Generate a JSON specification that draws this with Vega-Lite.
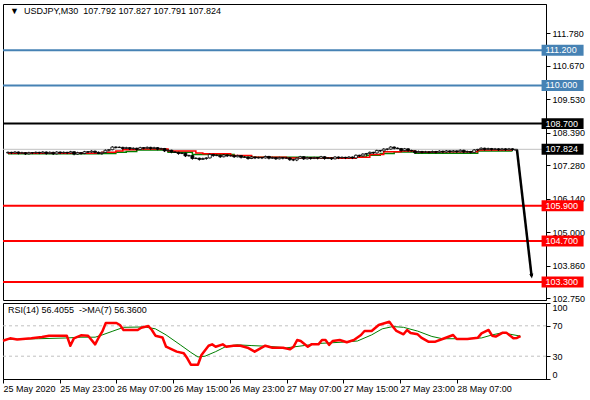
{
  "$schema": "https://vega.github.io/schema/vega-lite/v6.json",
  "background": "white",
  "padding": {"left": 0, "top": 3, "right": 0, "bottom": 0},
  "bounds": "flush",
  "spacing": 3,
  "config": {
    "font": "Liberation Sans",
    "view": {"stroke": "black", "strokeWidth": 1},
    "axis": {"labelFont": "Liberation Sans", "labelFontSize": 9, "labelColor": "black", "domainColor": "black", "tickColor": "black", "grid": false}
  },
  "datasets": {
    "levels": [
      {"p": 111.2, "kind": "Resistance"},
      {"p": 110.0, "kind": "Resistance"},
      {"p": 108.7, "kind": "Pivot"},
      {"p": 107.824, "kind": "Bid"},
      {"p": 105.9, "kind": "Support"},
      {"p": 104.7, "kind": "Support"},
      {"p": 103.3, "kind": "Support"}
    ],
    "candles": [
      {"i":0,"o":107.70,"h":107.75,"l":107.68,"c":107.72},
      {"i":1,"o":107.72,"h":107.74,"l":107.66,"c":107.70},
      {"i":2,"o":107.70,"h":107.76,"l":107.68,"c":107.73},
      {"i":3,"o":107.73,"h":107.75,"l":107.65,"c":107.69},
      {"i":4,"o":107.69,"h":107.74,"l":107.67,"c":107.71},
      {"i":5,"o":107.71,"h":107.73,"l":107.63,"c":107.67},
      {"i":6,"o":107.67,"h":107.74,"l":107.65,"c":107.71},
      {"i":7,"o":107.71,"h":107.73,"l":107.66,"c":107.70},
      {"i":8,"o":107.70,"h":107.75,"l":107.68,"c":107.72},
      {"i":9,"o":107.72,"h":107.74,"l":107.66,"c":107.70},
      {"i":10,"o":107.70,"h":107.76,"l":107.68,"c":107.73},
      {"i":11,"o":107.73,"h":107.75,"l":107.64,"c":107.68},
      {"i":12,"o":107.68,"h":107.75,"l":107.66,"c":107.72},
      {"i":13,"o":107.72,"h":107.74,"l":107.63,"c":107.67},
      {"i":14,"o":107.67,"h":107.76,"l":107.65,"c":107.73},
      {"i":15,"o":107.73,"h":107.75,"l":107.66,"c":107.70},
      {"i":16,"o":107.70,"h":107.75,"l":107.68,"c":107.72},
      {"i":17,"o":107.72,"h":107.74,"l":107.66,"c":107.70},
      {"i":18,"o":107.70,"h":107.77,"l":107.68,"c":107.74},
      {"i":19,"o":107.74,"h":107.76,"l":107.62,"c":107.66},
      {"i":20,"o":107.66,"h":107.74,"l":107.64,"c":107.71},
      {"i":21,"o":107.71,"h":107.73,"l":107.64,"c":107.68},
      {"i":22,"o":107.68,"h":107.77,"l":107.66,"c":107.74},
      {"i":23,"o":107.74,"h":107.76,"l":107.69,"c":107.73},
      {"i":24,"o":107.73,"h":107.79,"l":107.71,"c":107.76},
      {"i":25,"o":107.76,"h":107.78,"l":107.68,"c":107.72},
      {"i":26,"o":107.72,"h":107.75,"l":107.66,"c":107.68},
      {"i":27,"o":107.68,"h":107.74,"l":107.64,"c":107.72},
      {"i":28,"o":107.72,"h":107.82,"l":107.70,"c":107.79},
      {"i":29,"o":107.79,"h":107.83,"l":107.75,"c":107.81},
      {"i":30,"o":107.81,"h":107.93,"l":107.79,"c":107.90},
      {"i":31,"o":107.90,"h":107.92,"l":107.85,"c":107.89},
      {"i":32,"o":107.89,"h":107.92,"l":107.87,"c":107.89},
      {"i":33,"o":107.89,"h":107.91,"l":107.81,"c":107.85},
      {"i":34,"o":107.85,"h":107.91,"l":107.83,"c":107.88},
      {"i":35,"o":107.88,"h":107.90,"l":107.80,"c":107.84},
      {"i":36,"o":107.84,"h":107.89,"l":107.82,"c":107.86},
      {"i":37,"o":107.86,"h":107.88,"l":107.78,"c":107.82},
      {"i":38,"o":107.82,"h":107.91,"l":107.80,"c":107.88},
      {"i":39,"o":107.88,"h":107.90,"l":107.82,"c":107.86},
      {"i":40,"o":107.86,"h":107.92,"l":107.84,"c":107.89},
      {"i":41,"o":107.89,"h":107.91,"l":107.81,"c":107.85},
      {"i":42,"o":107.85,"h":107.91,"l":107.83,"c":107.88},
      {"i":43,"o":107.88,"h":107.90,"l":107.79,"c":107.83},
      {"i":44,"o":107.83,"h":107.88,"l":107.81,"c":107.85},
      {"i":45,"o":107.85,"h":107.87,"l":107.73,"c":107.77},
      {"i":46,"o":107.77,"h":107.82,"l":107.75,"c":107.79},
      {"i":47,"o":107.79,"h":107.81,"l":107.69,"c":107.73},
      {"i":48,"o":107.73,"h":107.76,"l":107.70,"c":107.72},
      {"i":49,"o":107.72,"h":107.74,"l":107.64,"c":107.68},
      {"i":50,"o":107.68,"h":107.72,"l":107.66,"c":107.69},
      {"i":51,"o":107.69,"h":107.71,"l":107.56,"c":107.60},
      {"i":52,"o":107.60,"h":107.64,"l":107.58,"c":107.61},
      {"i":53,"o":107.61,"h":107.63,"l":107.47,"c":107.51},
      {"i":54,"o":107.51,"h":107.55,"l":107.49,"c":107.52},
      {"i":55,"o":107.52,"h":107.54,"l":107.44,"c":107.48},
      {"i":56,"o":107.48,"h":107.54,"l":107.46,"c":107.51},
      {"i":57,"o":107.51,"h":107.55,"l":107.47,"c":107.53},
      {"i":58,"o":107.53,"h":107.68,"l":107.51,"c":107.65},
      {"i":59,"o":107.65,"h":107.67,"l":107.57,"c":107.61},
      {"i":60,"o":107.61,"h":107.65,"l":107.59,"c":107.62},
      {"i":61,"o":107.62,"h":107.64,"l":107.53,"c":107.57},
      {"i":62,"o":107.57,"h":107.66,"l":107.55,"c":107.63},
      {"i":63,"o":107.63,"h":107.65,"l":107.56,"c":107.60},
      {"i":64,"o":107.60,"h":107.64,"l":107.58,"c":107.61},
      {"i":65,"o":107.61,"h":107.63,"l":107.53,"c":107.57},
      {"i":66,"o":107.57,"h":107.64,"l":107.55,"c":107.61},
      {"i":67,"o":107.61,"h":107.63,"l":107.51,"c":107.55},
      {"i":68,"o":107.55,"h":107.59,"l":107.53,"c":107.56},
      {"i":69,"o":107.56,"h":107.58,"l":107.47,"c":107.51},
      {"i":70,"o":107.51,"h":107.59,"l":107.49,"c":107.56},
      {"i":71,"o":107.56,"h":107.58,"l":107.49,"c":107.53},
      {"i":72,"o":107.53,"h":107.57,"l":107.51,"c":107.54},
      {"i":73,"o":107.54,"h":107.56,"l":107.49,"c":107.53},
      {"i":74,"o":107.53,"h":107.61,"l":107.51,"c":107.58},
      {"i":75,"o":107.58,"h":107.60,"l":107.48,"c":107.52},
      {"i":76,"o":107.52,"h":107.57,"l":107.50,"c":107.54},
      {"i":77,"o":107.54,"h":107.56,"l":107.46,"c":107.50},
      {"i":78,"o":107.50,"h":107.57,"l":107.48,"c":107.54},
      {"i":79,"o":107.54,"h":107.56,"l":107.48,"c":107.52},
      {"i":80,"o":107.52,"h":107.56,"l":107.50,"c":107.53},
      {"i":81,"o":107.53,"h":107.55,"l":107.43,"c":107.47},
      {"i":82,"o":107.47,"h":107.50,"l":107.42,"c":107.46},
      {"i":83,"o":107.46,"h":107.54,"l":107.42,"c":107.52},
      {"i":84,"o":107.52,"h":107.60,"l":107.50,"c":107.57},
      {"i":85,"o":107.57,"h":107.59,"l":107.46,"c":107.50},
      {"i":86,"o":107.50,"h":107.57,"l":107.48,"c":107.54},
      {"i":87,"o":107.54,"h":107.56,"l":107.47,"c":107.51},
      {"i":88,"o":107.51,"h":107.57,"l":107.49,"c":107.54},
      {"i":89,"o":107.54,"h":107.56,"l":107.48,"c":107.52},
      {"i":90,"o":107.52,"h":107.60,"l":107.50,"c":107.57},
      {"i":91,"o":107.57,"h":107.59,"l":107.47,"c":107.51},
      {"i":92,"o":107.51,"h":107.56,"l":107.49,"c":107.53},
      {"i":93,"o":107.53,"h":107.55,"l":107.46,"c":107.50},
      {"i":94,"o":107.50,"h":107.59,"l":107.48,"c":107.56},
      {"i":95,"o":107.56,"h":107.58,"l":107.49,"c":107.53},
      {"i":96,"o":107.53,"h":107.58,"l":107.51,"c":107.55},
      {"i":97,"o":107.55,"h":107.57,"l":107.49,"c":107.53},
      {"i":98,"o":107.53,"h":107.59,"l":107.51,"c":107.56},
      {"i":99,"o":107.56,"h":107.58,"l":107.49,"c":107.53},
      {"i":100,"o":107.53,"h":107.65,"l":107.51,"c":107.62},
      {"i":101,"o":107.62,"h":107.64,"l":107.56,"c":107.60},
      {"i":102,"o":107.60,"h":107.69,"l":107.58,"c":107.66},
      {"i":103,"o":107.66,"h":107.70,"l":107.62,"c":107.68},
      {"i":104,"o":107.68,"h":107.75,"l":107.66,"c":107.72},
      {"i":105,"o":107.72,"h":107.74,"l":107.66,"c":107.70},
      {"i":106,"o":107.70,"h":107.81,"l":107.68,"c":107.78},
      {"i":107,"o":107.78,"h":107.80,"l":107.73,"c":107.77},
      {"i":108,"o":107.77,"h":107.86,"l":107.75,"c":107.83},
      {"i":109,"o":107.83,"h":107.85,"l":107.79,"c":107.83},
      {"i":110,"o":107.83,"h":107.93,"l":107.81,"c":107.90},
      {"i":111,"o":107.90,"h":107.92,"l":107.82,"c":107.86},
      {"i":112,"o":107.86,"h":107.89,"l":107.83,"c":107.85},
      {"i":113,"o":107.85,"h":107.87,"l":107.74,"c":107.78},
      {"i":114,"o":107.78,"h":107.87,"l":107.76,"c":107.84},
      {"i":115,"o":107.84,"h":107.86,"l":107.74,"c":107.78},
      {"i":116,"o":107.78,"h":107.81,"l":107.75,"c":107.77},
      {"i":117,"o":107.77,"h":107.79,"l":107.67,"c":107.71},
      {"i":118,"o":107.71,"h":107.78,"l":107.69,"c":107.75},
      {"i":119,"o":107.75,"h":107.77,"l":107.68,"c":107.72},
      {"i":120,"o":107.72,"h":107.77,"l":107.70,"c":107.74},
      {"i":121,"o":107.74,"h":107.76,"l":107.68,"c":107.72},
      {"i":122,"o":107.72,"h":107.78,"l":107.70,"c":107.75},
      {"i":123,"o":107.75,"h":107.77,"l":107.68,"c":107.72},
      {"i":124,"o":107.72,"h":107.79,"l":107.70,"c":107.76},
      {"i":125,"o":107.76,"h":107.78,"l":107.69,"c":107.73},
      {"i":126,"o":107.73,"h":107.80,"l":107.71,"c":107.77},
      {"i":127,"o":107.77,"h":107.79,"l":107.70,"c":107.74},
      {"i":128,"o":107.74,"h":107.80,"l":107.72,"c":107.77},
      {"i":129,"o":107.77,"h":107.79,"l":107.70,"c":107.74},
      {"i":130,"o":107.74,"h":107.82,"l":107.72,"c":107.79},
      {"i":131,"o":107.79,"h":107.81,"l":107.69,"c":107.73},
      {"i":132,"o":107.73,"h":107.78,"l":107.71,"c":107.75},
      {"i":133,"o":107.75,"h":107.77,"l":107.68,"c":107.72},
      {"i":134,"o":107.72,"h":107.83,"l":107.70,"c":107.80},
      {"i":135,"o":107.80,"h":107.84,"l":107.76,"c":107.82},
      {"i":136,"o":107.82,"h":107.89,"l":107.80,"c":107.86},
      {"i":137,"o":107.86,"h":107.88,"l":107.78,"c":107.82},
      {"i":138,"o":107.82,"h":107.88,"l":107.80,"c":107.85},
      {"i":139,"o":107.85,"h":107.87,"l":107.78,"c":107.82},
      {"i":140,"o":107.82,"h":107.87,"l":107.80,"c":107.84},
      {"i":141,"o":107.84,"h":107.86,"l":107.77,"c":107.81},
      {"i":142,"o":107.81,"h":107.87,"l":107.79,"c":107.84},
      {"i":143,"o":107.84,"h":107.86,"l":107.77,"c":107.81},
      {"i":144,"o":107.81,"h":107.87,"l":107.79,"c":107.84},
      {"i":145,"o":107.84,"h":107.86,"l":107.77,"c":107.81},
      {"i":146,"o":107.792,"h":107.827,"l":107.791,"c":107.824}
    ],
    "fastMA": [
      {"i":0,"p":107.69},{"i":27,"p":107.72},{"i":31,"p":107.77},{"i":33,"p":107.81},{"i":37,"p":107.83},
      {"i":46,"p":107.77},{"i":54,"p":107.70},{"i":56,"p":107.67},{"i":64,"p":107.61},{"i":70,"p":107.55},
      {"i":80,"p":107.53},{"i":95,"p":107.52},{"i":100,"p":107.55},{"i":104,"p":107.65},{"i":108,"p":107.74},
      {"i":113,"p":107.77},{"i":117,"p":107.72},{"i":123,"p":107.74},{"i":135,"p":107.80},{"i":145,"p":107.80}
    ],
    "slowMA": [
      {"i":0,"p":107.67},{"i":27,"p":107.68},{"i":31,"p":107.72},{"i":34,"p":107.75},{"i":37,"p":107.80},
      {"i":46,"p":107.72},{"i":53,"p":107.65},{"i":65,"p":107.60},{"i":70,"p":107.55},{"i":90,"p":107.54},
      {"i":100,"p":107.56},{"i":103,"p":107.62},{"i":107,"p":107.68},{"i":111,"p":107.73},{"i":117,"p":107.69},
      {"i":135,"p":107.77},{"i":145,"p":107.77}
    ],
    "arrow": [
      {"i":146.3,"p":107.80},
      {"i":150.5,"p":103.50}
    ],
    "rsi": [
      {"i":0,"v":50.4},{"i":2,"v":53.5},{"i":4,"v":52},{"i":8,"v":53.5},{"i":11,"v":55.3},{"i":13,"v":57},
      {"i":18,"v":57},{"i":19,"v":43.8},{"i":20,"v":53.5},{"i":22,"v":57.5},{"i":24,"v":57},{"i":26,"v":45.6},
      {"i":27,"v":54.6},{"i":28,"v":62.3},{"i":29,"v":73.7},{"i":32,"v":73.7},{"i":33,"v":71},{"i":34,"v":64.5},
      {"i":38,"v":64.5},{"i":39,"v":67.5},{"i":41,"v":69.7},{"i":42,"v":64.5},{"i":43,"v":57},{"i":45,"v":54.6},
      {"i":46,"v":42.5},{"i":49,"v":36},{"i":51,"v":33.8},{"i":52,"v":27.2},{"i":53,"v":18.8},{"i":55,"v":18.8},
      {"i":56,"v":31.6},{"i":58,"v":43.8},{"i":59,"v":45.6},{"i":60,"v":42.5},{"i":62,"v":45.6},{"i":63,"v":42.5},
      {"i":65,"v":43.8},{"i":67,"v":43.8},{"i":69,"v":41.2},{"i":71,"v":36},{"i":73,"v":41.2},{"i":74,"v":43.8},
      {"i":76,"v":41.2},{"i":79,"v":41.2},{"i":81,"v":39},{"i":82,"v":42.5},{"i":83,"v":51.3},{"i":84,"v":50},
      {"i":86,"v":42.5},{"i":87,"v":45.6},{"i":89,"v":45.6},{"i":90,"v":51.3},{"i":91,"v":51.3},{"i":92,"v":44.9},
      {"i":93,"v":50},{"i":95,"v":51.3},{"i":97,"v":48.4},{"i":99,"v":51.3},{"i":101,"v":57.9},{"i":102,"v":63.2},
      {"i":104,"v":63.2},{"i":106,"v":71},{"i":109,"v":75.4},{"i":110,"v":68.9},{"i":111,"v":63.2},{"i":113,"v":58.8},
      {"i":114,"v":64.5},{"i":115,"v":60.5},{"i":117,"v":58.8},{"i":118,"v":54.4},{"i":120,"v":49.1},{"i":122,"v":49.1},
      {"i":124,"v":52.6},{"i":127,"v":57.9},{"i":128,"v":52.6},{"i":131,"v":52.6},{"i":134,"v":54.4},{"i":135,"v":60},
      {"i":137,"v":64.5},{"i":138,"v":57},{"i":139,"v":55.8},{"i":141,"v":61},{"i":142,"v":61},{"i":144,"v":53.5},
      {"i":145,"v":54},{"i":146,"v":56.4}
    ],
    "rsiMA": [
      {"i":0,"m":52},{"i":10,"m":53},{"i":18,"m":54},{"i":22,"m":55},{"i":26,"m":55},{"i":28,"m":58},
      {"i":31,"m":63},{"i":34,"m":68},{"i":40,"m":68.5},{"i":43,"m":66},{"i":46,"m":58},{"i":50,"m":45},
      {"i":53,"m":35},{"i":55,"m":29},{"i":57,"m":30},{"i":60,"m":36},{"i":63,"m":43},{"i":66,"m":45},
      {"i":70,"m":44},{"i":75,"m":43},{"i":80,"m":41},{"i":85,"m":44},{"i":90,"m":47},{"i":96,"m":48.5},
      {"i":100,"m":50},{"i":104,"m":58},{"i":107,"m":66},{"i":110,"m":69},{"i":113,"m":68},{"i":117,"m":63},
      {"i":121,"m":56},{"i":124,"m":53},{"i":130,"m":53},{"i":135,"m":54},{"i":138,"m":58},{"i":141,"m":61},
      {"i":143,"m":59},{"i":146,"m":56.4}
    ],
    "levelsRSI": [{"v":70},{"v":30}],
    "titles": [{"t":"▼\u00a0\u00a0USDJPY,M30\u00a0\u00a0107.792 107.827 107.791 107.824"}],
    "rsiTitle": [{"t":"RSI(14) 56.4055\u00a0\u00a0->MA(7) 56.3600"}]
  },
  "vconcat": [
    {
      "width": 543,
      "height": 296,
      "layer": [
        {
          "data": {"name": "levels"},
          "transform": [{"filter": "datum.kind !== 'Bid'"}],
          "mark": {"type": "rule", "strokeWidth": 2},
          "encoding": {
            "y": {"field": "p", "type": "quantitative",
                  "scale": {"domain": [102.689, 112.775], "nice": false, "zero": false},
                  "axis": {"orient": "right", "title": null, "values": [102.75, 103.86, 105, 106.14, 107.28, 108.39, 109.53, 110.67, 111.78], "format": ".3f", "tickSize": 4, "labelPadding": 2}},
            "color": {"field": "kind", "type": "nominal",
                      "scale": {"domain": ["Resistance", "Pivot", "Bid", "Support"], "range": ["#4682B4", "#000000", "#000000", "#FF0000"]},
                      "legend": null}
          }
        },
        {
          "data": {"name": "levels"},
          "transform": [{"filter": "datum.kind === 'Bid'"}],
          "mark": {"type": "rule", "strokeWidth": 1, "color": "#C0C0C0"},
          "encoding": {
            "y": {"field": "p", "type": "quantitative", "scale": {"domain": [102.689, 112.775], "nice": false, "zero": false},
                  "axis": {"orient": "right", "title": null, "values": [102.75, 103.86, 105, 106.14, 107.28, 108.39, 109.53, 110.67, 111.78], "format": ".3f", "tickSize": 4, "labelPadding": 2}}
          }
        },
        {
          "data": {"name": "slowMA"},
          "mark": {"type": "line", "interpolate": "step-after", "color": "#008000", "strokeWidth": 1.5},
          "encoding": {
            "x": {"field": "i", "type": "quantitative", "scale": {"domain": [0, 153.2], "nice": false, "zero": false}, "axis": null},
            "y": {"field": "p", "type": "quantitative", "scale": {"domain": [102.689, 112.775], "nice": false, "zero": false},
                  "axis": {"orient": "right", "title": null, "values": [102.75, 103.86, 105, 106.14, 107.28, 108.39, 109.53, 110.67, 111.78], "format": ".3f", "tickSize": 4, "labelPadding": 2}}
          }
        },
        {
          "data": {"name": "fastMA"},
          "mark": {"type": "line", "interpolate": "step-after", "color": "#FF0000", "strokeWidth": 1.5},
          "encoding": {
            "x": {"field": "i", "type": "quantitative", "scale": {"domain": [0, 153.2], "nice": false, "zero": false}, "axis": null},
            "y": {"field": "p", "type": "quantitative", "scale": {"domain": [102.689, 112.775], "nice": false, "zero": false},
                  "axis": {"orient": "right", "title": null, "values": [102.75, 103.86, 105, 106.14, 107.28, 108.39, 109.53, 110.67, 111.78], "format": ".3f", "tickSize": 4, "labelPadding": 2}}
          }
        },
        {
          "data": {"name": "candles"},
          "mark": {"type": "rule", "color": "black", "strokeWidth": 1},
          "encoding": {
            "x": {"field": "i", "type": "quantitative", "scale": {"domain": [0, 153.2], "nice": false, "zero": false}, "axis": null},
            "y": {"field": "l", "type": "quantitative", "scale": {"domain": [102.689, 112.775], "nice": false, "zero": false},
                  "axis": {"orient": "right", "title": null, "values": [102.75, 103.86, 105, 106.14, 107.28, 108.39, 109.53, 110.67, 111.78], "format": ".3f", "tickSize": 4, "labelPadding": 2}},
            "y2": {"field": "h"}
          }
        },
        {
          "data": {"name": "candles"},
          "mark": {"type": "bar", "size": 3, "stroke": "black", "strokeWidth": 0.8},
          "encoding": {
            "x": {"field": "i", "type": "quantitative", "scale": {"domain": [0, 153.2], "nice": false, "zero": false}, "axis": null},
            "y": {"field": "o", "type": "quantitative", "scale": {"domain": [102.689, 112.775], "nice": false, "zero": false},
                  "axis": {"orient": "right", "title": null, "values": [102.75, 103.86, 105, 106.14, 107.28, 108.39, 109.53, 110.67, 111.78], "format": ".3f", "tickSize": 4, "labelPadding": 2}},
            "y2": {"field": "c"},
            "color": {"condition": {"test": "datum.c >= datum.o", "value": "white"}, "value": "black"}
          }
        },
        {
          "data": {"name": "arrow"},
          "mark": {"type": "line", "color": "black", "strokeWidth": 2.5},
          "encoding": {
            "x": {"field": "i", "type": "quantitative", "scale": {"domain": [0, 153.2], "nice": false, "zero": false}, "axis": null},
            "y": {"field": "p", "type": "quantitative", "scale": {"domain": [102.689, 112.775], "nice": false, "zero": false},
                  "axis": {"orient": "right", "title": null, "values": [102.75, 103.86, 105, 106.14, 107.28, 108.39, 109.53, 110.67, 111.78], "format": ".3f", "tickSize": 4, "labelPadding": 2}}
          }
        },
        {
          "data": {"name": "arrow"},
          "transform": [{"filter": "datum.p < 105"}],
          "mark": {"type": "point", "filled": true, "color": "black", "opacity": 1, "shape": "M-0.5,-0.6L0.5,-0.6L0,0.6Z", "size": 64, "angle": 353},
          "encoding": {
            "x": {"field": "i", "type": "quantitative", "scale": {"domain": [0, 153.2], "nice": false, "zero": false}, "axis": null},
            "y": {"field": "p", "type": "quantitative", "scale": {"domain": [102.689, 112.775], "nice": false, "zero": false},
                  "axis": {"orient": "right", "title": null, "values": [102.75, 103.86, 105, 106.14, 107.28, 108.39, 109.53, 110.67, 111.78], "format": ".3f", "tickSize": 4, "labelPadding": 2}}
          }
        },
        {
          "data": {"name": "levels"},
          "mark": {"type": "point", "filled": true, "opacity": 1, "shape": "M-1,-0.26H1V0.26H-1Z", "size": 1764},
          "encoding": {
            "x": {"datum": 159.4, "type": "quantitative", "scale": {"domain": [0, 153.2], "nice": false, "zero": false}, "axis": null},
            "y": {"field": "p", "type": "quantitative", "scale": {"domain": [102.689, 112.775], "nice": false, "zero": false},
                  "axis": {"orient": "right", "title": null, "values": [102.75, 103.86, 105, 106.14, 107.28, 108.39, 109.53, 110.67, 111.78], "format": ".3f", "tickSize": 4, "labelPadding": 2}},
            "color": {"field": "kind", "type": "nominal", "legend": null}
          }
        },
        {
          "data": {"name": "levels"},
          "mark": {"type": "text", "align": "left", "baseline": "middle", "color": "white", "fontSize": 9, "dx": 2},
          "encoding": {
            "x": {"datum": 153.9, "type": "quantitative", "scale": {"domain": [0, 153.2], "nice": false, "zero": false}, "axis": null},
            "y": {"field": "p", "type": "quantitative", "scale": {"domain": [102.689, 112.775], "nice": false, "zero": false},
                  "axis": {"orient": "right", "title": null, "values": [102.75, 103.86, 105, 106.14, 107.28, 108.39, 109.53, 110.67, 111.78], "format": ".3f", "tickSize": 4, "labelPadding": 2}},
            "text": {"field": "p", "type": "quantitative", "format": ".3f"}
          }
        },
        {
          "data": {"name": "titles"},
          "mark": {"type": "text", "align": "left", "baseline": "middle", "color": "black", "fontSize": 9},
          "encoding": {
            "x": {"datum": 0.6, "type": "quantitative", "scale": {"domain": [0, 153.2], "nice": false, "zero": false}, "axis": null},
            "y": {"datum": 112.54, "type": "quantitative", "scale": {"domain": [102.689, 112.775], "nice": false, "zero": false},
                  "axis": {"orient": "right", "title": null, "values": [102.75, 103.86, 105, 106.14, 107.28, 108.39, 109.53, 110.67, 111.78], "format": ".3f", "tickSize": 4, "labelPadding": 2}},
            "text": {"field": "t"}
          }
        }
      ]
    },
    {
      "width": 543,
      "height": 76,
      "layer": [
        {
          "data": {"name": "levelsRSI"},
          "mark": {"type": "rule", "color": "#C0C0C0", "strokeDash": [3, 3], "strokeWidth": 1},
          "encoding": {
            "y": {"field": "v", "type": "quantitative", "scale": {"domain": [0, 100], "nice": false, "zero": false},
                  "axis": {"orient": "right", "title": null, "values": [0, 30, 70, 100], "labelFlush": true, "tickSize": 4, "labelPadding": 2}}
          }
        },
        {
          "data": {"name": "rsiMA"},
          "mark": {"type": "line", "color": "#008000", "strokeWidth": 1},
          "encoding": {
            "x": {"field": "i", "type": "quantitative", "scale": {"domain": [0, 153.2], "nice": false, "zero": false},
                  "axis": {"orient": "bottom", "title": null, "values": [0, 16, 32, 48, 64, 80, 96, 112, 128], "tickSize": 4, "labelPadding": 1, "labelAlign": "left", "labelFlush": false, "labelOverlap": false,
                           "labelExpr": "['25 May 2020','25 May 23:00','26 May 07:00','26 May 15:00','26 May 23:00','27 May 07:00','27 May 15:00','27 May 23:00','28 May 07:00'][round(datum.value / 16)]"}},
            "y": {"field": "m", "type": "quantitative", "scale": {"domain": [0, 100], "nice": false, "zero": false},
                  "axis": {"orient": "right", "title": null, "values": [0, 30, 70, 100], "labelFlush": true, "tickSize": 4, "labelPadding": 2}}
          }
        },
        {
          "data": {"name": "rsi"},
          "mark": {"type": "line", "color": "#FF0000", "strokeWidth": 2.5, "strokeJoin": "round"},
          "encoding": {
            "x": {"field": "i", "type": "quantitative", "scale": {"domain": [0, 153.2], "nice": false, "zero": false},
                  "axis": {"orient": "bottom", "title": null, "values": [0, 16, 32, 48, 64, 80, 96, 112, 128], "tickSize": 4, "labelPadding": 1, "labelAlign": "left", "labelFlush": false, "labelOverlap": false,
                           "labelExpr": "['25 May 2020','25 May 23:00','26 May 07:00','26 May 15:00','26 May 23:00','27 May 07:00','27 May 15:00','27 May 23:00','28 May 07:00'][round(datum.value / 16)]"}},
            "y": {"field": "v", "type": "quantitative", "scale": {"domain": [0, 100], "nice": false, "zero": false},
                  "axis": {"orient": "right", "title": null, "values": [0, 30, 70, 100], "labelFlush": true, "tickSize": 4, "labelPadding": 2}}
          }
        },
        {
          "data": {"name": "rsiTitle"},
          "mark": {"type": "text", "align": "left", "baseline": "middle", "color": "black", "fontSize": 9},
          "encoding": {
            "x": {"datum": 1.4, "type": "quantitative", "scale": {"domain": [0, 153.2], "nice": false, "zero": false},
                  "axis": {"orient": "bottom", "title": null, "values": [0, 16, 32, 48, 64, 80, 96, 112, 128], "tickSize": 4, "labelPadding": 1, "labelAlign": "left", "labelFlush": false, "labelOverlap": false,
                           "labelExpr": "['25 May 2020','25 May 23:00','26 May 07:00','26 May 15:00','26 May 23:00','27 May 07:00','27 May 15:00','27 May 23:00','28 May 07:00'][round(datum.value / 16)]"}},
            "y": {"datum": 90.8, "type": "quantitative", "scale": {"domain": [0, 100], "nice": false, "zero": false},
                  "axis": {"orient": "right", "title": null, "values": [0, 30, 70, 100], "labelFlush": true, "tickSize": 4, "labelPadding": 2}},
            "text": {"field": "t"}
          }
        }
      ]
    }
  ]
}
